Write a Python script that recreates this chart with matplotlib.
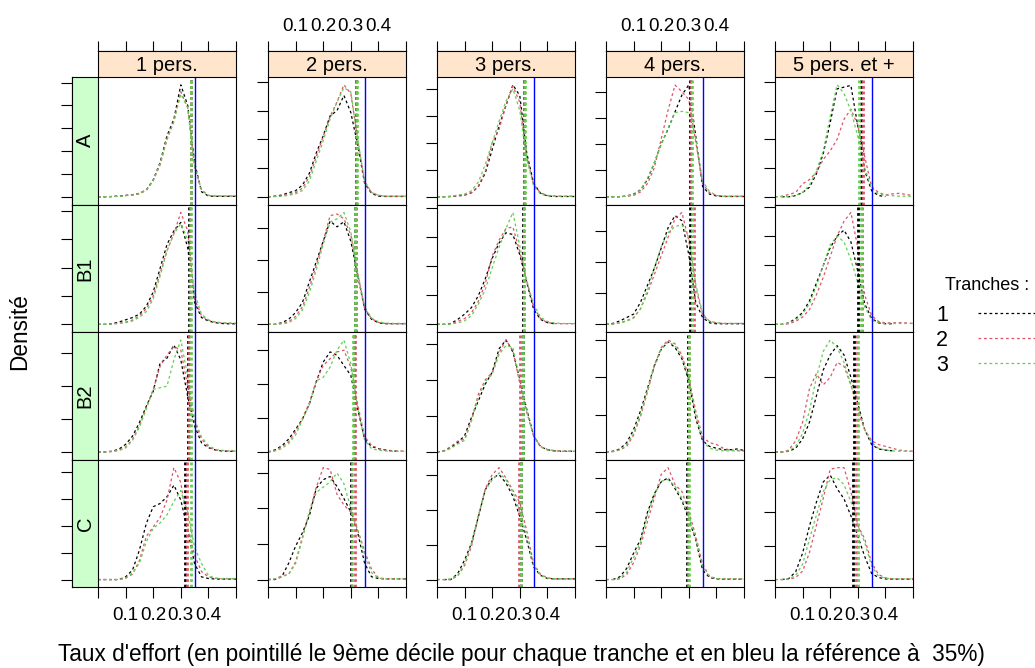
import numpy as np
import matplotlib.pyplot as plt
from matplotlib.lines import Line2D
from matplotlib.ticker import MultipleLocator

plt.rcParams['font.family'] = ['Liberation Sans', 'DejaVu Sans']

nan = np.nan

# points ou la densite est lue (taux d'effort)
taux = [0.000, 0.025, 0.050, 0.075, 0.100, 0.125, 0.150, 0.175, 0.200, 0.225, 0.250,
        0.275, 0.300, 0.325, 0.350, 0.375, 0.400, 0.425, 0.450, 0.475, 0.500]

menages = ["1 pers.", "2 pers.", "3 pers.", "4 pers.", "5 pers. et +"]
groupes = ["A", "B1", "B2", "C"]
tranches = ["1", "2", "3"]
couleurs = ["black", "#DF536B", "#61D04F"]
reference = 0.35

# densites (unite = un pas de graduation), tranches 1, 2, 3
A_1pers = [
    [0, 0, 0.01, 0.03, 0.06, 0.09, 0.15, 0.3, 0.74, 1.5, 2.67, 3.4, 4.9, 4.0, 1.5, 0.22, 0.03, 0.02, 0.02, 0.02, 0.02],
    [0, 0, 0.01, 0.02, 0.05, 0.08, 0.13, 0.28, 0.7, 1.4, 2.5, 3.3, 4.6, 3.9, 1.3, 0.3, 0.06, 0.03, 0.03, 0.03, 0.03],
    [0, 0, 0.01, 0.02, 0.05, 0.08, 0.14, 0.3, 0.72, 1.45, 2.55, 3.3, 4.5, 3.9, 1.35, 0.3, 0.06, 0.03, 0.03, 0.03, 0.03],
]
A_2pers = [
    [0, 0.02, 0.06, 0.14, 0.21, 0.41, 0.82, 1.53, 2.12, 2.82, 3.0, 3.53, 2.94, 1.8, 0.47, 0.12, 0.02, 0.01, 0.01, 0.01, 0.01],
    [0, 0.01, 0.03, 0.08, 0.14, 0.3, 0.7, 1.4, 2.1, 2.8, 3.3, 3.9, 3.6, 2.0, 0.5, 0.15, 0.05, 0.02, 0.02, 0.02, 0.02],
    [0, 0.01, 0.02, 0.05, 0.1, 0.22, 0.55, 1.25, 1.95, 2.7, 3.3, 3.8, 3.65, 2.0, 0.55, 0.15, 0.05, 0.02, 0.02, 0.02, 0.02],
]
A_3pers = [
    [0, 0, 0.01, 0.03, 0.06, 0.15, 0.38, 0.88, 1.75, 2.63, 3.38, 4.15, 3.75, 1.63, 0.5, 0.13, 0.03, 0.01, 0.01, 0.01, 0.01],
    [0, 0, 0.01, 0.05, 0.08, 0.15, 0.4, 0.95, 2.0, 2.5, 3.4, 4.1, 3.5, 1.5, 0.45, 0.15, 0.05, 0.03, 0.02, 0.02, 0.02],
    [0, 0, 0.02, 0.06, 0.1, 0.22, 0.55, 1.2, 2.0, 2.8, 3.55, 4.0, 3.2, 1.4, 0.4, 0.1, 0.03, 0.02, 0.02, 0.02, 0.02],
]
A_4pers = [
    [0, 0, 0, 0.03, 0.1, 0.26, 0.65, 1.29, 2.0, 2.58, 3.23, 3.87, 4.26, 2.32, 0.39, 0.1, 0.03, 0.01, 0.01, 0.01, 0.01],
    [0, 0, 0, 0.02, 0.05, 0.18, 0.5, 1.1, 2.2, 3.3, 4.25, 4.0, 3.7, 2.1, 0.5, 0.15, 0.05, 0.02, 0.02, 0.02, 0.02],
    [0, 0, 0, 0.03, 0.08, 0.25, 0.7, 1.3, 2.0, 2.6, 3.2, 3.25, 3.2, 2.2, 0.6, 0.2, 0.05, 0.02, 0.02, 0.02, 0.02],
]
A_5pers = [
    [nan, 0, 0, 0.04, 0.15, 0.33, 0.8, 1.51, 2.58, 3.76, 3.82, 3.88, 2.46, 0.92, 0.21, 0.04, 0.01, nan, nan, nan, nan],
    [0, 0.02, 0.08, 0.15, 0.45, 0.6, 0.85, 1.3, 1.6, 2.0, 2.7, 3.05, 2.5, 1.4, 0.35, 0.15, 0.06, 0.1, 0.12, 0.08, 0.04],
    [0, 0, 0.01, 0.05, 0.15, 0.4, 0.9, 1.6, 2.8, 3.9, 3.6, 3.0, 2.1, 1.0, 0.3, 0.1, 0.05, 0.04, 0.02, 0.02, 0.02],
]

B1_1pers = [
    [0, 0, 0.02, 0.08, 0.16, 0.24, 0.36, 0.64, 1.14, 1.98, 2.82, 3.3, 3.6, 2.7, 0.78, 0.24, 0.12, 0.06, 0.03, 0.02, 0.02],
    [0, 0, 0.02, 0.04, 0.08, 0.15, 0.3, 0.55, 1.0, 1.8, 2.6, 3.2, 3.95, 3.3, 0.9, 0.3, 0.15, 0.08, 0.05, 0.04, 0.03],
    [0, 0, 0.01, 0.03, 0.06, 0.12, 0.25, 0.45, 0.9, 1.7, 2.6, 3.2, 3.55, 3.0, 1.1, 0.35, 0.15, 0.08, 0.06, 0.05, 0.04],
]
B1_2pers = [
    [0, 0, 0.05, 0.16, 0.37, 0.69, 1.33, 1.96, 2.6, 3.23, 3.05, 3.21, 2.6, 1.54, 0.48, 0.16, 0.05, 0.02, 0.02, 0.02, 0.02],
    [0, 0, 0.03, 0.08, 0.25, 0.55, 1.15, 1.85, 2.6, 3.4, 3.45, 3.3, 2.8, 1.6, 0.5, 0.18, 0.06, 0.03, 0.02, 0.02, 0.02],
    [0, 0, 0.02, 0.05, 0.18, 0.45, 1.0, 1.7, 2.5, 3.2, 3.3, 3.5, 2.9, 1.6, 0.55, 0.2, 0.08, 0.04, 0.03, 0.03, 0.03],
]
B1_3pers = [
    [0, 0, 0.03, 0.17, 0.35, 0.58, 0.99, 1.57, 2.27, 2.8, 3.15, 3.09, 2.39, 1.46, 0.52, 0.17, 0.06, 0.02, nan, nan, nan],
    [0, 0, 0.02, 0.1, 0.2, 0.4, 0.8, 1.4, 2.35, 2.9, 3.3, 3.35, 2.5, 1.5, 0.6, 0.2, 0.06, 0.03, 0.02, 0.02, 0.02],
    [0, 0, 0.01, 0.05, 0.12, 0.3, 0.7, 1.2, 1.95, 2.65, 3.3, 3.85, 2.7, 1.5, 0.7, 0.25, 0.1, 0.05, 0.03, 0.03, 0.03],
]
B1_4pers = [
    [0, 0.03, 0.11, 0.22, 0.33, 0.71, 1.25, 1.8, 2.45, 3.11, 3.5, 3.33, 2.24, 0.71, 0.22, 0.05, 0.02, 0.02, 0.02, 0.02, 0.02],
    [0, 0.01, 0.05, 0.12, 0.22, 0.5, 1.0, 1.6, 2.2, 2.8, 3.4, 3.6, 2.7, 1.2, 0.3, 0.1, 0.05, 0.03, 0.03, 0.03, 0.03],
    [0, 0.01, 0.04, 0.1, 0.2, 0.5, 1.1, 1.8, 2.5, 2.95, 3.15, 3.2, 2.8, 1.3, 0.35, 0.1, 0.05, 0.03, 0.03, 0.03, 0.03],
]
B1_5pers = [
    [0, 0, 0.05, 0.2, 0.4, 0.8, 1.4, 2.0, 2.6, 3.0, 3.2, 2.8, 1.8, 0.7, 0.2, 0.05, 0.02, 0.02, nan, nan, nan],
    [0, 0, 0.02, 0.1, 0.25, 0.5, 1.0, 1.6, 2.3, 3.0, 3.5, 3.8, 2.6, 1.0, 0.3, 0.1, 0.05, 0.05, 0.06, 0.05, 0.03],
    [0, 0, 0.04, 0.15, 0.35, 0.7, 1.3, 2.0, 2.7, 3.0, 2.8, 2.2, 1.4, 0.6, 0.15, 0.05, 0.03, 0.03, 0.03, 0.03, 0.03],
]

B2_1pers = [
    [0, 0, 0.02, 0.08, 0.23, 0.48, 0.89, 1.39, 1.84, 2.7, 2.85, 3.25, 2.8, 1.69, 0.79, 0.28, 0.13, 0.06, 0.03, 0.02, 0.02],
    [0, 0, 0.02, 0.05, 0.15, 0.38, 0.8, 1.35, 1.9, 2.6, 2.95, 3.2, 3.1, 2.0, 0.9, 0.4, 0.15, 0.06, 0.04, 0.03, 0.03],
    [0, 0, 0.01, 0.04, 0.12, 0.35, 0.75, 1.3, 1.9, 1.95, 2.0, 2.8, 3.4, 2.3, 1.0, 0.45, 0.2, 0.08, 0.05, 0.03, 0.03],
]
B2_2pers = [
    [0, 0.06, 0.18, 0.38, 0.67, 0.97, 1.42, 2.06, 2.65, 2.95, 2.85, 2.55, 2.26, 1.27, 0.38, 0.16, 0.1, 0.06, 0.03, 0.02, nan],
    [0, 0.04, 0.15, 0.3, 0.6, 1.0, 1.45, 2.1, 2.55, 2.75, 2.95, 3.0, 2.5, 1.4, 0.45, 0.2, 0.1, 0.05, 0.03, 0.03, 0.03],
    [0, 0.03, 0.1, 0.25, 0.5, 0.95, 1.4, 2.1, 2.2, 2.5, 3.0, 3.3, 2.6, 1.3, 0.35, 0.1, 0.05, 0.03, 0.02, 0.02, 0.02],
]
B2_3pers = [
    [0, 0.03, 0.12, 0.26, 0.45, 0.96, 1.42, 1.88, 2.21, 2.86, 3.1, 2.77, 2.02, 1.19, 0.45, 0.15, 0.06, 0.03, 0.02, 0.02, 0.02],
    [0, 0.03, 0.15, 0.3, 0.35, 0.9, 1.6, 2.0, 2.2, 2.75, 3.1, 2.8, 1.9, 1.1, 0.45, 0.15, 0.07, 0.04, 0.02, 0.02, 0.02],
    [0, 0.02, 0.1, 0.22, 0.32, 0.85, 1.5, 1.95, 2.15, 2.7, 2.95, 2.9, 2.0, 1.15, 0.45, 0.15, 0.05, 0.02, 0.02, 0.02, 0.02],
]
B2_4pers = [
    [0, 0.02, 0.08, 0.25, 0.6, 1.1, 1.7, 2.3, 2.75, 2.95, 2.8, 2.5, 1.9, 0.9, 0.3, 0.15, 0.1, 0.06, 0.06, 0.08, 0.04],
    [0, 0.01, 0.05, 0.15, 0.45, 0.95, 1.6, 2.3, 2.8, 3.0, 2.9, 2.6, 2.0, 1.1, 0.4, 0.25, 0.2, 0.1, 0.05, 0.04, 0.03],
    [0, 0.01, 0.06, 0.2, 0.5, 1.0, 1.65, 2.35, 2.75, 2.95, 2.85, 2.55, 1.95, 1.0, 0.3, 0.1, 0.05, 0.03, 0.03, 0.03, 0.03],
]
B2_5pers = [
    [0, 0, 0.02, 0.1, 0.35, 0.8, 1.5, 2.2, 2.6, 2.85, 2.6, 2.0, 1.3, 0.6, 0.2, 0.08, 0.05, 0.03, nan, nan, nan],
    [0, 0, 0.05, 0.3, 0.8, 1.7, 2.1, 1.8, 2.0, 2.4, 2.3, 1.8, 1.1, 0.6, 0.3, 0.2, 0.15, 0.1, 0.05, 0.03, 0.02],
    [0, 0, 0.03, 0.15, 0.5, 1.1, 2.0, 2.7, 3.0, 2.8, 2.4, 1.8, 1.2, 0.6, 0.25, 0.1, 0.05, 0.03, 0.02, 0.02, 0.02],
]

C_1pers = [
    [0, 0, 0, 0, 0.1, 0.35, 1.09, 2.08, 2.7, 2.82, 3.07, 3.5, 2.95, 1.83, 0.59, 0.1, 0.04, 0.02, 0.02, 0.02, 0.02],
    [0, 0, 0, 0, 0.05, 0.2, 0.7, 1.6, 1.95, 2.3, 2.95, 4.15, 3.6, 1.9, 0.9, 0.3, 0.1, 0.05, 0.03, 0.03, 0.03],
    [0, 0, 0, 0, 0.05, 0.25, 0.6, 1.4, 1.9, 2.1, 2.4, 2.9, 3.3, 2.5, 1.2, 0.6, 0.15, 0.05, 0.04, 0.04, 0.04],
]
C_2pers = [
    [0, 0, 0.08, 0.46, 0.94, 1.32, 1.8, 2.57, 2.81, 2.9, 2.62, 2.28, 1.9, 1.32, 0.46, 0.08, 0.03, 0.02, 0.02, 0.02, 0.02],
    [0, 0.02, 0.1, 0.15, 0.5, 1.2, 1.9, 2.6, 3.15, 3.1, 2.4, 2.1, 1.9, 1.4, 0.8, 0.3, 0.05, 0.02, 0.02, 0.02, 0.02],
    [0, 0.02, 0.08, 0.15, 0.45, 1.15, 1.9, 2.45, 2.6, 2.75, 3.0, 2.7, 2.0, 1.4, 0.7, 0.2, 0.04, 0.02, 0.02, 0.02, 0.02],
]
C_3pers = [
    [nan, 0, 0, 0.17, 0.56, 1.04, 1.8, 2.57, 2.9, 3.0, 2.76, 2.38, 1.8, 1.13, 0.36, 0.12, 0.03, 0.02, 0.02, 0.02, 0.02],
    [0, 0, 0, 0.1, 0.4, 0.95, 1.8, 2.6, 3.0, 3.2, 2.9, 2.55, 2.2, 1.4, 0.45, 0.15, 0.05, 0.02, 0.02, 0.02, 0.02],
    [0, 0, 0.02, 0.12, 0.45, 1.05, 1.85, 2.55, 2.85, 3.05, 2.85, 2.5, 1.95, 1.25, 0.4, 0.12, 0.04, 0.02, 0.02, 0.02, 0.02],
]
C_4pers = [
    [nan, 0, 0.08, 0.33, 0.78, 1.18, 1.98, 2.53, 2.88, 3.0, 2.68, 2.33, 1.78, 1.18, 0.28, 0.06, 0.02, 0.01, 0.01, 0.01, 0.01],
    [0, 0, 0.02, 0.15, 0.5, 1.0, 1.7, 2.4, 3.1, 3.3, 2.8, 2.6, 2.0, 1.3, 0.45, 0.1, 0.03, 0.02, 0.02, 0.02, 0.02],
    [0, 0, 0.04, 0.22, 0.65, 1.1, 1.9, 2.5, 2.9, 2.95, 2.75, 2.4, 1.85, 1.2, 0.4, 0.08, 0.03, 0.02, 0.02, 0.02, 0.02],
]
C_5pers = [
    [nan, 0, 0.03, 0.23, 0.78, 1.58, 2.28, 2.88, 3.08, 2.68, 2.38, 1.88, 1.28, 0.68, 0.18, 0.06, 0.02, 0.01, 0.01, 0.01, 0.01],
    [0, 0, 0.01, 0.06, 0.25, 0.8, 1.6, 2.4, 3.25, 3.3, 3.3, 2.6, 1.6, 1.2, 0.5, 0.15, 0.05, 0.02, 0.02, 0.02, 0.02],
    [0, 0, 0.02, 0.12, 0.45, 1.2, 1.9, 2.6, 2.95, 3.0, 2.8, 2.3, 1.6, 1.1, 0.4, 0.1, 0.04, 0.02, 0.02, 0.02, 0.02],
]

# 9eme decile par tranche (1, 2, 3), une ligne par taille de menage
decile9_A = [[0.336, 0.337, 0.338], [0.318, 0.319, 0.321], [0.317, 0.315, 0.319],
             [0.304, 0.307, 0.310], [0.310, 0.318, 0.306]]
decile9_B1 = [[0.331, 0.334, 0.336], [0.316, 0.319, 0.315], [0.313, 0.314, 0.315],
              [0.304, 0.319, 0.310], [0.300, 0.315, 0.310]]
decile9_B2 = [[0.325, 0.331, 0.337], [0.312, 0.316, 0.309], [0.313, 0.301, 0.313],
              [0.297, 0.300, 0.300], [0.287, 0.296, 0.300]]
decile9_C = [[0.315, 0.324, 0.336], [0.300, 0.316, 0.303], [0.304, 0.298, 0.304],
             [0.295, 0.298, 0.300], [0.284, 0.294, 0.299]]

densites = {
    "A": [A_1pers, A_2pers, A_3pers, A_4pers, A_5pers],
    "B1": [B1_1pers, B1_2pers, B1_3pers, B1_4pers, B1_5pers],
    "B2": [B2_1pers, B2_2pers, B2_3pers, B2_4pers, B2_5pers],
    "C": [C_1pers, C_2pers, C_3pers, C_4pers, C_5pers],
}
deciles = {"A": decile9_A, "B1": decile9_B1, "B2": decile9_B2, "C": decile9_C}

# mise en page (pixels)
W, H = 1035, 668
col_x = [98, 268, 437, 606, 775]
pw = 138
top0 = 77
ph = 127.6
strip = 26
pt = 72 / 100  # pixels -> points

fig = plt.figure(figsize=(W / 100, H / 100), dpi=100)

curve_ls = (0, (2.2, 2.2))
xt = [0.0, 0.1, 0.2, 0.3, 0.4, 0.5]
xl = ["", "0.1", "0.2", "0.3", "0.4", ""]

for i, g in enumerate(groupes):
    y_top = top0 + i * ph
    for j, m in enumerate(menages):
        ax = fig.add_axes([col_x[j] / W, 1 - (y_top + ph) / H, pw / W, ph / H])
        courbes = densites[g][j]
        for t in range(3):
            ax.plot(taux, courbes[t], color=couleurs[t], lw=0.9, ls=curve_ls)
        for t in range(3):
            ax.axvline(deciles[g][j][t], color=couleurs[t], lw=2.0, ls=(0, (1, 1)))
        ax.axvline(reference, color="blue", lw=1.0)

        ymax = np.nanmax(np.array(courbes, dtype=float))
        ax.set_xlim(0, 0.5)
        ax.set_ylim(-0.07 * ymax, 1.07 * ymax)
        ax.yaxis.set_major_locator(MultipleLocator(1))
        ax.tick_params(axis='y', left=True, right=False, labelleft=False,
                       length=8, width=0.8, direction='out')
        ax.set_xticks(xt)
        ax.set_xticklabels(xl)
        ax.tick_params(axis='x', labelsize=13.5)
        for s in ax.spines.values():
            s.set_linewidth(0.8)

        if i == 0:
            ax.spines['top'].set_position(('outward', strip * pt))
            ax.tick_params(axis='x', top=True, bottom=False, labeltop=(j in (1, 3)),
                           labelbottom=False, length=7.5, width=0.8, direction='out', pad=4)
        elif i == len(groupes) - 1:
            ax.tick_params(axis='x', top=False, bottom=True, labeltop=False,
                           labelbottom=(j in (0, 2, 4)), length=8, width=0.8,
                           direction='out', pad=6)
        else:
            ax.tick_params(axis='x', top=False, bottom=False,
                           labeltop=False, labelbottom=False)
        if j == 0:
            ax.spines['left'].set_position(('outward', strip * pt))

        # bandeaux
        if i == 0:
            sx = fig.add_axes([col_x[j] / W, 1 - y_top / H, pw / W, strip / H])
            sx.set_facecolor("#FFE5CC")
            sx.set_xticks([])
            sx.set_yticks([])
            for s in sx.spines.values():
                s.set_linewidth(0.8)
            sx.text(0.5, 0.45, m, ha='center', va='center', fontsize=14.5,
                    transform=sx.transAxes)
        if j == 0:
            sy = fig.add_axes([(col_x[0] - strip) / W, 1 - (y_top + ph) / H, strip / W, ph / H])
            sy.set_facecolor("#CCFFCC")
            sy.set_xticks([])
            sy.set_yticks([])
            for s in sy.spines.values():
                s.set_linewidth(0.8)
            sy.text(0.5, 0.5, g, ha='center', va='center', fontsize=14.5,
                    rotation=90, transform=sy.transAxes)

fig.text(521 / W, 1 - 655 / H,
         "Taux d'effort (en pointillé le 9ème décile pour chaque tranche et en bleu la référence à  35%)",
         ha='center', va='center', fontsize=16.3)
fig.text(20 / W, 1 - 332 / H, "Densité", ha='center', va='center',
         rotation=90, fontsize=16.3)

# legende
fig.text(987 / W, 1 - 285 / H, "Tranches :", ha='center', va='center', fontsize=13)
handles = [Line2D([], [], color=c, lw=0.9, ls=curve_ls) for c in couleurs]
fig.legend(handles, tranches, fontsize=15.5,
           markerfirst=False, frameon=False, loc='upper left',
           bbox_to_anchor=(936 / W, 1 - 305 / H), handlelength=2.7,
           handletextpad=1.4, labelspacing=0.18, borderpad=0, borderaxespad=0)

fig.savefig("out.png", dpi=100)
